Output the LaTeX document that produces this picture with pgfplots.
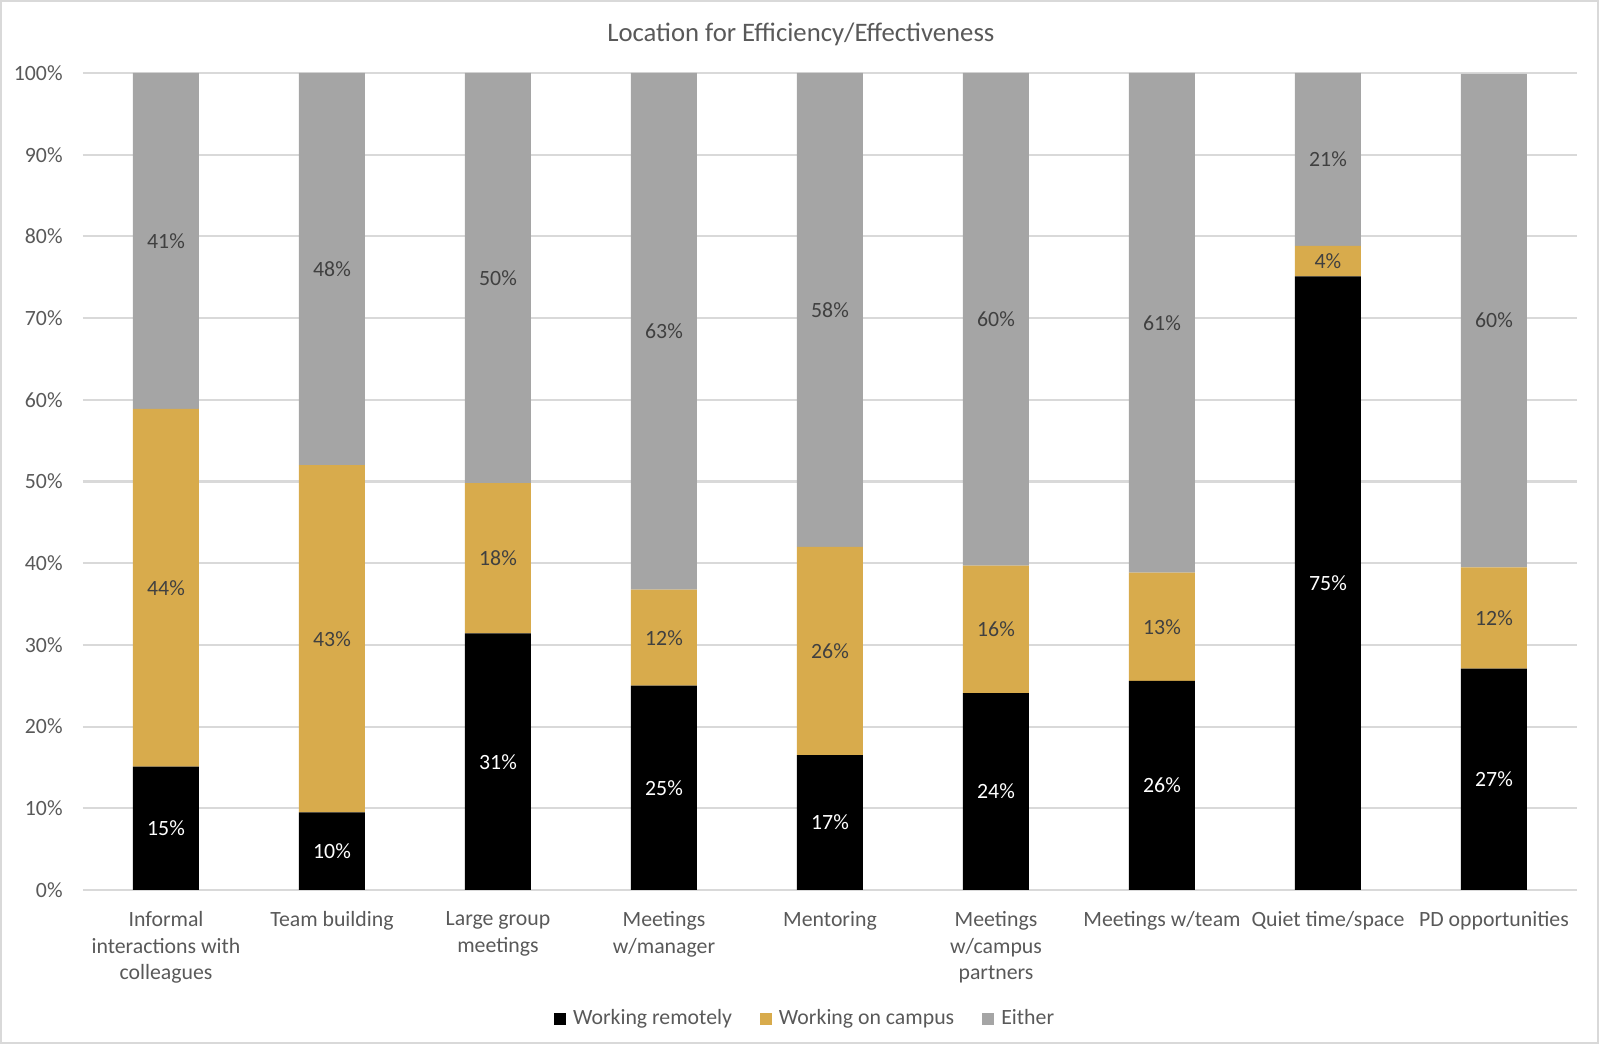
\documentclass[border=0pt]{standalone}
\usepackage{fontspec}
\setmainfont{Carlito}
\usepackage{pgfplots}
\pgfplotsset{compat=1.18}
\usepackage{pgfplotstable}
\definecolor{cblack}{HTML}{000000}
\definecolor{cgold}{HTML}{D8AB4C}
\definecolor{cgray}{HTML}{A5A5A5}
\definecolor{gridgray}{HTML}{D9D9D9}
\definecolor{txtgray}{HTML}{595959}
\definecolor{lblgray}{HTML}{404040}

\pgfplotstableread{
x v
0 15.1
1 9.5
2 31.4
3 25.0
4 16.5
5 24.1
6 25.6
7 75.1
8 27.1
}\remote
\pgfplotstableread{
x v
0 43.8
1 42.5
2 18.4
3 11.75
4 25.5
5 15.6
6 13.25
7 3.75
8 12.4
}\campus
\pgfplotstableread{
x v
0 41.1
1 48.0
2 50.2
3 63.25
4 58.0
5 60.3
6 61.15
7 21.15
8 60.4
}\either

\pgfplotsset{
  seglabels/.style={
    point meta=explicit symbolic,
    nodes near coords={\pgfmathprintnumber[fixed,precision=0,assume math mode=true]{\pgfplotspointmeta}\%},
    every node near coord/.append style={anchor=center, font=\fontsize{6.2}{7.6}\selectfont, text=#1},
  }
}

\begin{document}
\begin{tikzpicture}
\useasboundingbox (-0.83,-1.59) rectangle (15.17,8.90);
\draw[gridgray, line width=0.5pt] (-0.82,-1.53) rectangle (15.15,8.89);
\begin{axis}[
  scale only axis, width=14.94cm, height=8.17cm,
  at={(0,0)}, anchor=south west,
  ybar stacked, bar width=0.66cm,
  xmin=-0.5, xmax=8.5, ymin=0, ymax=100,
  xtick={0,...,8},
  xticklabels={{Informal\\interactions with\\colleagues},{Team building},{Large group\\meetings},{Meetings\\w/manager},{Mentoring},{Meetings\\w/campus\\partners},{Meetings w/team},{Quiet time/space},{PD opportunities}},
  ytick={0,10,...,100},
  yticklabels={0\%,10\%,20\%,30\%,40\%,50\%,60\%,70\%,80\%,90\%,100\%},
  ymajorgrids, grid style={gridgray, line width=0.6pt},
  axis line style={draw=none}, tick style={draw=none},
  ticklabel style={font=\fontsize{6.2}{7.6}\selectfont, text=txtgray},
  xticklabel style={align=center, yshift=-0.09cm},
  yticklabel style={xshift=-0.08cm},
  title={Location for Efficiency/Effectiveness},
  title style={at={(0.4805,1)}, anchor=center, yshift=0.18cm, font=\fontsize{7.6}{9}\selectfont, text=txtgray},
  legend style={at={(0.485,-0.158)}, anchor=center, draw=none, fill=none,
    legend columns=3, font=\fontsize{6.2}{7.6}\selectfont, text=txtgray,
    /tikz/every even column/.append style={column sep=0.21cm}},
  legend cell align=left,
  legend image code/.code={\fill[#1] (0cm,-0.06cm) rectangle (0.12cm,0.06cm);},
]
\addplot[fill=cblack, draw=none, seglabels=white] table[x=x,y=v,meta=v] {\remote};
\addplot[fill=cgold, draw=none, seglabels=lblgray] table[x=x,y=v,meta=v] {\campus};
\addplot[fill=cgray, draw=none, seglabels=lblgray] table[x=x,y=v,meta=v] {\either};
\legend{Working remotely, Working on campus, Either}
\end{axis}
\end{tikzpicture}
\end{document}
